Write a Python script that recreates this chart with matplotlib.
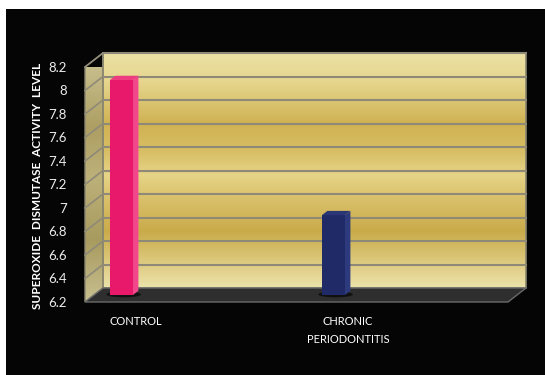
import numpy as np
import matplotlib
matplotlib.use("Agg")
import matplotlib.pyplot as plt
from matplotlib.patches import Rectangle, Polygon, Ellipse
from matplotlib.colors import LinearSegmentedColormap

categories = ["CONTROL", "CHRONIC\nPERIODONTITIS"]
values = [8.03, 6.88]
bar_colors = ["#e8196b", "#1f2a66"]
side_colors = ["#f2478a", "#2d3a7e"]
top_colors = ["#ee3c80", "#2a3675"]
yticks = [6.2, 6.4, 6.6, 6.8, 7.0, 7.2, 7.4, 7.6, 7.8, 8.0, 8.2]
ylabel = "SUPEROXIDE  DISMUTASE  ACTIVITY  LEVEL"

plt.rcParams['font.family'] = ['Lato', 'DejaVu Sans']

W, H = 545, 375
fig = plt.figure(figsize=(W / 100, H / 100), dpi=100)
fig.patch.set_facecolor("white")
fig.add_artist(Rectangle((6 / W, 0), 1 - 6 / W, 1 - 9 / H, transform=fig.transFigure,
                         facecolor="#050505", edgecolor="none", zorder=0))

# front plane of the 3d box in pixels: x 85..508, y 67..302
ax = fig.add_axes([85 / W, 1 - 302 / H, 423 / W, 235 / H])
ax.set_facecolor("none")
for s in ax.spines.values():
    s.set_visible(False)

ymin, ymax = 6.2, 8.2
ppx = 212.0            # pixels per category
ppy = 235.0 / 2.0      # pixels per value unit
xmin = -27.5 / ppx
xmax = (508 - 112.5) / ppx
DX = 18 / ppx          # depth offset
DY = 14 / ppy


def P(x, y, d):
    return (x + d * DX, y + d * DY)


# back wall with gold gradient
gold = LinearSegmentedColormap.from_list("gold", [
    (0.0, "#ebe0a4"), (0.12, "#e6d68e"), (0.30, "#cfb252"), (0.42, "#d8bf66"),
    (0.52, "#e6d487"), (0.62, "#d9c06a"), (0.76, "#c9ab4a"), (0.88, "#dcc77a"),
    (1.0, "#ebe2aa")])
grad = np.linspace(0, 1, 256).reshape(-1, 1)
im = ax.imshow(grad, cmap=gold, aspect="auto", origin="upper",
               extent=[xmin + DX, xmax + DX, ymin + DY, ymax + DY], zorder=1)
im.set_clip_on(False)
ax.add_patch(Rectangle(P(xmin, ymin, 1), xmax - xmin, ymax - ymin, fill=False,
                       edgecolor="#8a8670", lw=1.2, zorder=2, clip_on=False))

# left wall
olive = LinearSegmentedColormap.from_list("olive", [
    (0.0, "#cdc495"), (0.3, "#ad9f63"), (0.5, "#bdb17a"), (0.75, "#a89b5f"),
    (1.0, "#c8bf90")])
left = Polygon([P(xmin, ymin, 0), P(xmin, ymax, 0), P(xmin, ymax, 1), P(xmin, ymin, 1)],
               closed=True, facecolor="none", edgecolor="#8a8670", lw=1.0,
               zorder=2, clip_on=False)
ax.add_patch(left)
im2 = ax.imshow(grad, cmap=olive, aspect="auto", origin="upper",
                extent=[xmin, xmin + DX, ymin, ymax + DY], zorder=1)
im2.set_clip_path(left)

# gridlines
for v in yticks[1:]:
    ax.plot([P(xmin, v, 1)[0], P(xmax, v, 1)[0]], [P(xmin, v, 1)[1]] * 2,
            color="#8f8a78", lw=1.5, zorder=2, clip_on=False)
    ax.plot([P(xmin, v, 0)[0], P(xmin, v, 1)[0]], [P(xmin, v, 0)[1], P(xmin, v, 1)[1]],
            color="#8f8a78", lw=1.2, zorder=2, clip_on=False)

# floor
ax.add_patch(Polygon([P(xmin, ymin, 0), P(xmax, ymin, 0), P(xmax, ymin, 1), P(xmin, ymin, 1)],
                     closed=True, facecolor="#2e2e2e", edgecolor="#6a6a6a", lw=1.0,
                     zorder=3, clip_on=False))

# bars
bw = 23 / ppx
d0, d1 = 0.5, 0.8
for i, v in enumerate(values):
    x0 = i - bw / 2
    x1 = i + bw / 2
    cx, cy = P(i, ymin, d0)
    ax.add_patch(Ellipse((cx + 0.01, cy + 0.005), bw * 1.5, 0.05, facecolor="#111111",
                         edgecolor="none", zorder=4, clip_on=False))
    ax.add_patch(Polygon([P(x0, ymin, d0), P(x1, ymin, d0), P(x1, v, d0), P(x0, v, d0)],
                         closed=True, facecolor=bar_colors[i], edgecolor="none",
                         zorder=5, clip_on=False))
    ax.add_patch(Polygon([P(x1, ymin, d0), P(x1, ymin, d1), P(x1, v, d1), P(x1, v, d0)],
                         closed=True, facecolor=side_colors[i], edgecolor="none",
                         zorder=5, clip_on=False))
    ax.add_patch(Polygon([P(x0, v, d0), P(x1, v, d0), P(x1, v, d1), P(x0, v, d1)],
                         closed=True, facecolor=top_colors[i], edgecolor="none",
                         zorder=5, clip_on=False))
    ax.annotate(categories[i], xy=(i + 0.11, -0.06), xycoords=("data", "axes fraction"),
                ha="center", va="top", color="white", fontsize=8, linespacing=1.75,
                annotation_clip=False)

ax.set_xlim(xmin, xmax)
ax.set_ylim(ymin, ymax)
ax.set_xticks([])
ax.set_yticks(yticks)
ax.set_yticklabels([f"{v:g}" for v in yticks])
ax.tick_params(axis="y", length=0, pad=13, labelcolor="#ececec", labelsize=9.5)

fig.text(38 / W, 1 - 186 / H, ylabel, rotation=90, ha="center", va="center",
         color="white", fontsize=8.5, fontweight="bold")

fig.savefig("out.png", dpi=100, facecolor=fig.get_facecolor())
